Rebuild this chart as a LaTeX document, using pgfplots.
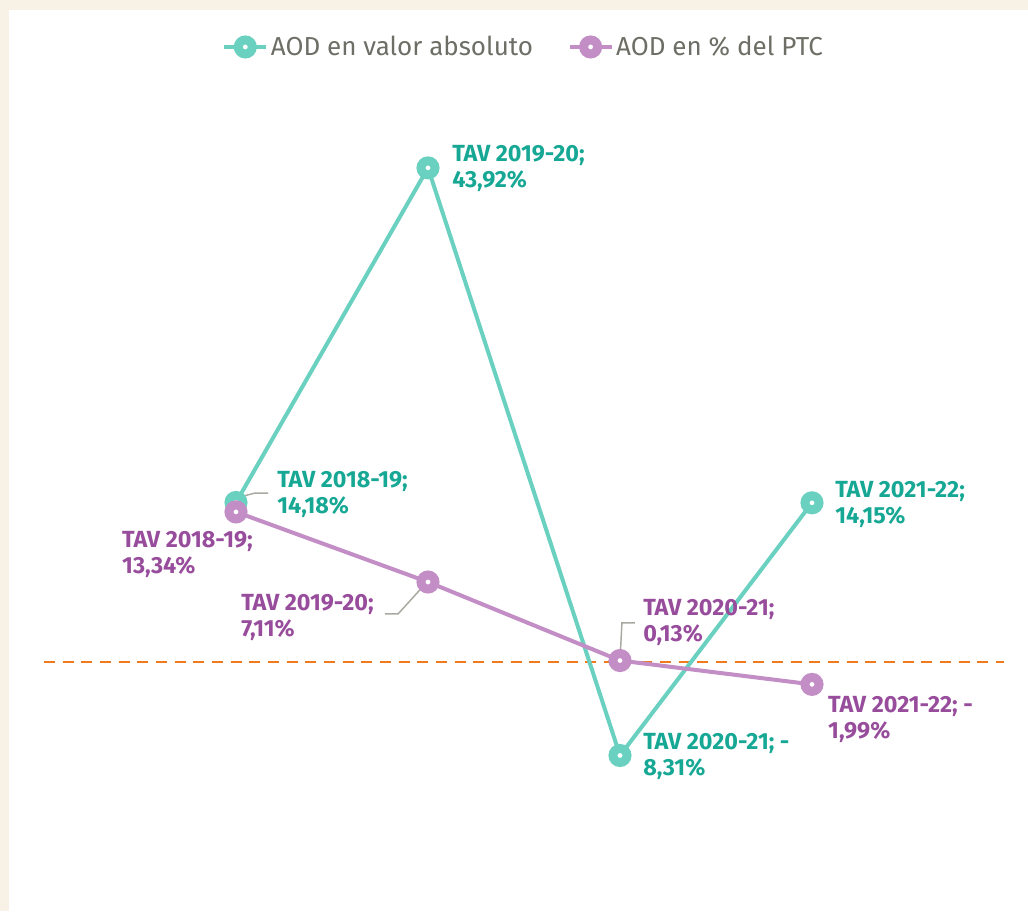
\documentclass[border=0pt]{standalone}
\usepackage{fontspec}
\setmainfont{Fira Sans}
\usepackage{pgfplots}
\pgfplotsset{compat=1.18}
\definecolor{bgBeige}{HTML}{F8F2E6}
\definecolor{tealLine}{HTML}{6AD1C1}
\definecolor{tealText}{HTML}{16A894}
\definecolor{purpLine}{HTML}{C38EC5}
\definecolor{purpText}{HTML}{984C9C}
\definecolor{zeroLine}{HTML}{F07A1C}
\definecolor{leader}{HTML}{A9A9A2}
\definecolor{legText}{HTML}{6E6E66}
\tikzset{labl/.style={font=\fontsize{17.5}{19.5}\selectfont\bfseries, align=left, anchor=west, inner sep=0pt}}

\begin{document}
\begin{tikzpicture}
\useasboundingbox (0,0) rectangle (771pt,683.25pt);
\fill[bgBeige] (0,0) rectangle (771pt,683.25pt);
\fill[white] (6.75pt,0) rectangle (771pt,675.75pt);
\begin{axis}[
  at={(33pt,18pt)}, anchor=south west,
  scale only axis,
  width=720pt, height=590.625pt,
  xmin=-1, xmax=4,
  ymin=-20, ymax=50,
  hide axis,
  clip=false,
  legend columns=2,
  legend style={at={(0.5,1.0667)}, anchor=center, draw=none, fill=none,
    font=\fontsize{19.5}{23}\selectfont\color{legText},
    /tikz/every even column/.append style={column sep=24pt}},
  legend image code/.code={\draw[mark repeat=2,mark phase=2]
    plot coordinates {(0cm,0cm) (0.55cm,0cm) (1.1cm,0cm)};},
]
% zero reference
\addplot[zeroLine, line width=2.2pt, dash pattern=on 8.25pt off 5.75pt, forget plot]
  coordinates {(-1,0) (4,0)};
% AOD en valor absoluto
\addplot[tealLine, line width=3pt, mark=*,
  mark options={draw=tealLine, fill=white, line width=6.75pt}, mark size=5.25pt]
  coordinates {(0,14.18) (1,43.92) (2,-8.31) (3,14.15)};
\addlegendentry{AOD en valor absoluto}
% AOD en % del PTC
\addplot[purpLine, line width=3pt, mark=*,
  mark options={draw=purpLine, fill=white, line width=6.75pt}, mark size=5.25pt]
  coordinates {(0,13.34) (1,7.11) (2,0.13) (3,-1.99)};
\addlegendentry{AOD en \% del PTC}

% leader lines
\draw[leader, line width=1.1pt] (axis cs:0.0208,14.67) -- (axis cs:0.099,15.02) -- (axis cs:0.1667,15.02);
\draw[leader, line width=1.1pt] (axis cs:0.995,7.11) -- (axis cs:0.844,4.27) -- (axis cs:0.776,4.27);
\draw[leader, line width=1.1pt] (axis cs:2,0.13) -- (axis cs:2.01,3.47) -- (axis cs:2.078,3.47);

% data labels
\node[labl, tealText] at (axis cs:1.125,43.91) {TAV 2019-20;\\43,92\%};
\node[labl, tealText] at (axis cs:0.2135,14.93) {TAV 2018-19;\\14,18\%};
\node[labl, tealText] at (axis cs:2.12,-8.44) {TAV 2020-21; -\\8,31\%};
\node[labl, tealText] at (axis cs:3.12,13.96) {TAV 2021-22;\\14,15\%};
\node[labl, purpText] at (axis cs:-0.594,9.6) {TAV 2018-19;\\13,34\%};
\node[labl, purpText] at (axis cs:0.026,4.0) {TAV 2019-20;\\7,11\%};
\node[labl, purpText] at (axis cs:2.12,3.47) {TAV 2020-21;\\0,13\%};
\node[labl, purpText] at (axis cs:3.083,-5.07) {TAV 2021-22; -\\1,99\%};
\end{axis}
\end{tikzpicture}
\end{document}
